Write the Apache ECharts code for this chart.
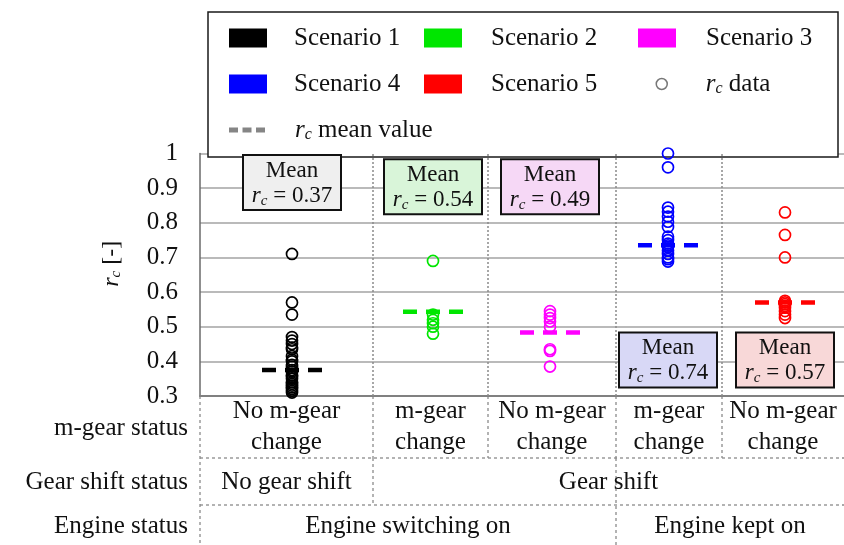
<!DOCTYPE html>
<html><head><meta charset="utf-8">
<script src="https://cdn.jsdelivr.net/npm/echarts@6/dist/echarts.min.js"></script>
<style>html,body{margin:0;padding:0;background:#fff}#c{width:844px;height:545px}</style>
</head><body><div id="c"></div>
<script>
// ================= DATA =================
const scenarios = ['Scenario 1', 'Scenario 2', 'Scenario 3', 'Scenario 4', 'Scenario 5'];
const rcScenario1 = [0.71, 0.57, 0.535, 0.47, 0.46, 0.45, 0.44, 0.435, 0.415, 0.405, 0.40, 0.39, 0.385, 0.375, 0.37, 0.36, 0.355, 0.35, 0.34, 0.335, 0.33, 0.325, 0.32, 0.315, 0.31];
const rcScenario2 = [0.69, 0.535, 0.52, 0.51, 0.50, 0.48];
const rcScenario3 = [0.545, 0.535, 0.525, 0.515, 0.50, 0.435, 0.43, 0.385];
const rcScenario4 = [1.0, 0.96, 0.844, 0.832, 0.818, 0.803, 0.788, 0.76, 0.75, 0.74, 0.735, 0.73, 0.72, 0.71, 0.70, 0.695, 0.688];
const rcScenario5 = [0.83, 0.765, 0.70, 0.575, 0.57, 0.565, 0.56, 0.555, 0.545, 0.535, 0.525];
const meanLines = [0.375, 0.543, 0.483, 0.735, 0.57];
const meanTexts = ['0.37', '0.54', '0.49', '0.74', '0.57'];
const yMin = 0.3, yMax = 1, yStep = 0.1;
const rowTitles = ['m-gear status', 'Gear shift status', 'Engine status'];
const mgearRow = ['No m-gear\nchange', 'm-gear\nchange', 'No m-gear\nchange', 'm-gear\nchange', 'No m-gear\nchange'];
const gearShiftRow = [{ label: 'No gear shift', from: 0, to: 1 }, { label: 'Gear shift', from: 1, to: 5 }];
const engineRow = [{ label: 'Engine switching on', from: 0, to: 3 }, { label: 'Engine kept on', from: 3, to: 5 }];

// ================= LAYOUT / STYLE =================
const FONT = '"Liberation Serif","Times New Roman",serif';
const TXT = '#111111';
const colors = ['#000000', '#00e600', '#ff00ff', '#0000ff', '#ff0000'];
const boxBg = ['#efefef', '#d9f5d9', '#f6d8f6', '#d8d8f6', '#f8d8d8'];
const colEdges = [0, 173, 288, 416, 522, 644];   // x-axis units (column borders)
const scenX = [92, 233, 350, 468, 585];          // x-axis position of each scenario column
const boxY = [0.916, 0.904, 0.904, 0.404, 0.404];  // y position of mean boxes
const allData = [rcScenario1, rcScenario2, rcScenario3, rcScenario4, rcScenario5];

const rich = {
  t: { fontFamily: FONT, fontSize: 23, color: TXT, lineHeight: 25, align: 'center' },
  i: { fontFamily: FONT, fontSize: 23, fontStyle: 'italic', color: TXT, lineHeight: 25, align: 'center' },
  s: { fontFamily: FONT, fontSize: 15, fontStyle: 'italic', color: TXT, lineHeight: 15, verticalAlign: 'bottom', align: 'center' }
};

const chart = echarts.init(document.getElementById('c'));

const series = [];
// separators inside plot
series.push({
  type: 'scatter', name: '_sep', data: [], silent: true, z: 2,
  markLine: {
    silent: true, symbol: 'none', label: { show: false }, animation: false,
    lineStyle: { type: [2, 2], color: '#8a8a8a', width: 1.5 },
    data: colEdges.slice(1, -1).map(x => ({ xAxis: x }))
  }
});
scenarios.forEach((name, i) => {
  series.push({
    type: 'scatter', name, z: 5,
    symbol: 'circle', symbolSize: 11,
    itemStyle: { color: 'rgba(0,0,0,0)', borderColor: colors[i], borderWidth: 1.7, opacity: 1 },
    data: allData[i].map(v => [scenX[i], v])
  });
});
series.push({ type: 'scatter', name: 'r_c data', data: [], itemStyle: { color: 'rgba(0,0,0,0)', borderColor: '#555' } });
series.push({
  type: 'custom', name: 'r_c mean value', z: 6,
  data: meanLines.map((m, i) => [scenX[i], m, i]),
  renderItem: (params, api) => {
    const p = api.coord([api.value(0), api.value(1)]);
    const i = api.value(2);
    return { type: 'line', shape: { x1: p[0] - 30, y1: p[1], x2: p[0] + 30, y2: p[1] },
      style: { stroke: colors[i], lineWidth: 4.5, lineDash: [14, 9] } };
  }
});
series.push({
  type: 'scatter', name: '_meanBox', silent: true, z: 4, symbolSize: 1,
  itemStyle: { color: 'rgba(0,0,0,0)', opacity: 1 },
  data: meanTexts.map((t, i) => ({ value: [scenX[i], boxY[i]], label: { backgroundColor: boxBg[i] } })),
  label: {
    show: true, position: 'inside', opacity: 1,
    formatter: p => '{t|Mean}\n{i|r}{s|c}{t| = ' + meanTexts[p.dataIndex] + '}',
    borderColor: '#111', borderWidth: 2, padding: [2, 0, 1, 0], width: 96,
    rich
  }
});

function legendText(name) {
  if (name === 'r_c data') return '{i|r}{s|c}{t| data}';
  if (name === 'r_c mean value') return '{i|r}{s|c}{t| mean value}';
  return '{t|' + name + '}';
}
function mkLegend(name, left, cy, pad, extra) {
  const r = {
    t: Object.assign({}, rich.t, { fontSize: 25, align: 'left' }),
    i: Object.assign({}, rich.i, { fontSize: 25, align: 'left', padding: [0, 0, 0, pad] }),
    s: Object.assign({}, rich.s, { fontSize: 16, align: 'left' })
  };
  if (!name.startsWith('r_c')) r.t.padding = [0, 0, 0, pad];
  return Object.assign({
    show: true, left, top: cy - 12.5, orient: 'horizontal', padding: 0, z: 20,
    itemWidth: 36, itemHeight: 17, selectedMode: true,
    data: [{ name, icon: 'rect', itemStyle: { color: colors[scenarios.indexOf(name)] } }],
    formatter: legendText,
    textStyle: { fontFamily: FONT, fontSize: 25, color: TXT, rich: r }
  }, extra || {});
}
const legends = [
  mkLegend('Scenario 1', 229, 38, 23),
  mkLegend('Scenario 2', 424, 38, 25),
  mkLegend('Scenario 3', 638, 38, 26),
  mkLegend('Scenario 4', 229, 84, 23),
  mkLegend('Scenario 5', 424, 84, 25),
  mkLegend('r_c data', 655.5, 84, 33.5, {
    itemWidth: 11, itemHeight: 11,
    data: [{ name: 'r_c data', icon: 'circle', itemStyle: { color: 'rgba(0,0,0,0)', borderColor: '#555', borderWidth: 1.5 } }]
  }),
  mkLegend('r_c mean value', 229, 130, 25, {
    itemWidth: 36, itemHeight: 5,
    data: [{ name: 'r_c mean value', icon: 'path://M0,0h9v5h-9z M13.5,0h9v5h-9z M27,0h9v5h-9z', itemStyle: { color: '#858585' } }]
  })
];

const option = {
  animation: false,
  backgroundColor: '#fff',
  grid: { left: 200, right: 0, top: 153.5, bottom: 149, containLabel: false },
  xAxis: {
    type: 'value', min: colEdges[0], max: colEdges[colEdges.length - 1],
    axisLine: { show: true, onZero: false, lineStyle: { color: '#808080', width: 2 } },
    axisTick: { show: false }, axisLabel: { show: false }, splitLine: { show: false }
  },
  yAxis: {
    type: 'value', min: yMin, max: yMax, interval: yStep,
    axisLine: { show: true, lineStyle: { color: '#6a6a6a', width: 1.5 } },
    axisTick: { show: false },
    axisLabel: { margin: 22, fontFamily: FONT, fontSize: 25, color: TXT, formatter: v => String(Number(v.toFixed(1))) },
    splitLine: { lineStyle: { color: '#a3a3a3', width: 1.5 } },
    name: '{i|r}{s|c}{t| [-]}', nameLocation: 'middle', nameGap: 76, nameRotate: 90,
    nameTextStyle: { padding: [0, 0, 0, 22], rich: {
      t: Object.assign({}, rich.t, { fontSize: 24 }), i: Object.assign({}, rich.i, { fontSize: 24 }), s: rich.s } }
  },
  legend: legends,
  series
};
chart.setOption(option);

// ================= TABLE + LEGEND FRAME =================
const px = v => chart.convertToPixel({ xAxisIndex: 0 }, v);
const yTop = chart.convertToPixel({ yAxisIndex: 0 }, yMin);
const rowH = [62, 47, 40];
const rowY = [yTop, yTop + rowH[0], yTop + rowH[0] + rowH[1], yTop + rowH[0] + rowH[1] + rowH[2]];
const xL = px(colEdges[0]), xR = px(colEdges[colEdges.length - 1]);
const dashed = { stroke: '#8a8a8a', lineWidth: 1.3, lineDash: [3, 3] };
const g = [];
g.push({ type: 'rect', z: 3, silent: true, shape: { x: 208, y: 12, width: 630, height: 145 },
  style: { fill: '#fff', stroke: '#1a1a1a', lineWidth: 1.5 } });
function vline(x, y1, y2) { g.push({ type: 'line', silent: true, shape: { x1: x, y1, x2: x, y2 }, style: dashed }); }
function hline(y) { g.push({ type: 'line', silent: true, shape: { x1: xL, y1: y, x2: xR, y2: y }, style: dashed }); }
function txt(text, x, y, align) {
  g.push({ type: 'text', silent: true, x, y, style: { text, x: 0, y: 0, align: align || 'center', verticalAlign: 'middle',
    textAlign: align || 'center', textVerticalAlign: 'middle', fontFamily: FONT, fontSize: 25, lineHeight: 31, fill: TXT } });
}
vline(xL, rowY[0], rowY[3]);
colEdges.slice(1, -1).forEach(e => vline(px(e), rowY[0], rowY[1]));
hline(rowY[1]); hline(rowY[2]);
gearShiftRow.forEach(c => { if (c.from > 0) vline(px(colEdges[c.from]), rowY[1], rowY[2]); });
engineRow.forEach(c => { if (c.from > 0) vline(px(colEdges[c.from]), rowY[1], rowY[3]); });
const titleX = 188;
rowTitles.forEach((t, r) => txt(t, titleX, (rowY[r] + rowY[r + 1]) / 2 + 1, 'right'));
mgearRow.forEach((t, i) => txt(t, (px(colEdges[i]) + px(colEdges[i + 1])) / 2, (rowY[0] + rowY[1]) / 2));
gearShiftRow.forEach(c => txt(c.label, (px(colEdges[c.from]) + px(colEdges[c.to])) / 2, (rowY[1] + rowY[2]) / 2 + 1));
engineRow.forEach(c => txt(c.label, (px(colEdges[c.from]) + px(colEdges[c.to])) / 2, (rowY[2] + rowY[3]) / 2 + 1));
chart.setOption({ graphic: { elements: g } });
</script>
</body></html>
